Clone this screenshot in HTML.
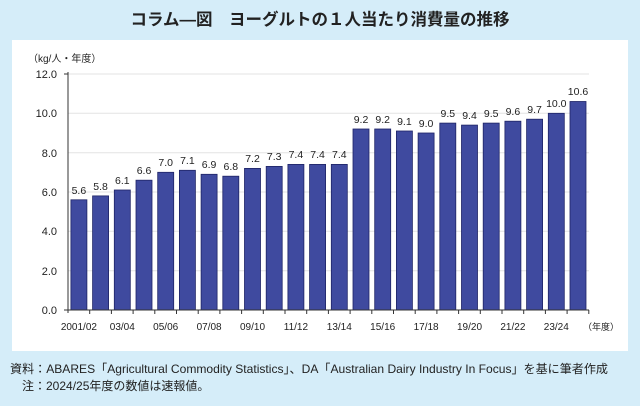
<!DOCTYPE html>
<html><head><meta charset="utf-8"><style>
body{margin:0;width:640px;height:401px;background:#d5edf9;overflow:hidden;font-family:"Liberation Sans","Noto Sans CJK JP",sans-serif}
</style></head><body>
<svg width="640" height="401" xmlns="http://www.w3.org/2000/svg" font-family="Liberation Sans, Noto Sans CJK JP, sans-serif">
<rect width="640" height="401" fill="#d5edf9"/>
<text x="320" y="25" text-anchor="middle" font-size="16.5" font-weight="bold" fill="#222">コラム―図　ヨーグルトの１人当たり消費量の推移</text>
<rect x="12" y="40" width="616" height="311" fill="#fff"/>
<text x="28" y="62" font-size="10" fill="#222">（kg/人・年度）</text>
<g stroke="#e3e3e3" stroke-width="1">
<line x1="68" y1="74" x2="589" y2="74"/><line x1="68" y1="113.3" x2="589" y2="113.3"/><line x1="68" y1="152.7" x2="589" y2="152.7"/><line x1="68" y1="192" x2="589" y2="192"/><line x1="68" y1="231.3" x2="589" y2="231.3"/><line x1="68" y1="270.7" x2="589" y2="270.7"/>
</g>
<g font-size="11" fill="#222" text-anchor="end">
<text x="57" y="78">12.0</text><text x="57" y="117">10.0</text><text x="57" y="157">8.0</text><text x="57" y="196">6.0</text><text x="57" y="235">4.0</text><text x="57" y="275">2.0</text><text x="57" y="314">0.0</text>
</g>
<g fill="#3f4a9f" stroke="#1e2466" stroke-width="0.8">
<rect x="70.9" y="199.8" width="16" height="110.2"/>
<rect x="92.6" y="195.9" width="16" height="114.1"/>
<rect x="114.3" y="190" width="16" height="120"/>
<rect x="136" y="180.2" width="16" height="129.8"/>
<rect x="157.7" y="172.3" width="16" height="137.7"/>
<rect x="179.4" y="170.3" width="16" height="139.7"/>
<rect x="201.1" y="174.3" width="16" height="135.7"/>
<rect x="222.8" y="176.2" width="16" height="133.8"/>
<rect x="244.5" y="168.4" width="16" height="141.6"/>
<rect x="266.2" y="166.4" width="16" height="143.6"/>
<rect x="287.9" y="164.4" width="16" height="145.6"/>
<rect x="309.6" y="164.4" width="16" height="145.6"/>
<rect x="331.3" y="164.4" width="16" height="145.6"/>
<rect x="353" y="129" width="16" height="181"/>
<rect x="374.7" y="129" width="16" height="181"/>
<rect x="396.4" y="131" width="16" height="179"/>
<rect x="418.1" y="133" width="16" height="177"/>
<rect x="439.8" y="123.1" width="16" height="186.9"/>
<rect x="461.5" y="125.1" width="16" height="184.9"/>
<rect x="483.2" y="123.1" width="16" height="186.9"/>
<rect x="504.9" y="121.2" width="16" height="188.8"/>
<rect x="526.6" y="119.2" width="16" height="190.8"/>
<rect x="548.3" y="113.3" width="16" height="196.7"/>
<rect x="570" y="101.5" width="16" height="208.5"/>
</g>
<g font-size="10.5" fill="#222" text-anchor="middle">
<text x="78.9" y="194">5.6</text><text x="100.6" y="190">5.8</text><text x="122.3" y="184">6.1</text><text x="144" y="174">6.6</text><text x="165.7" y="166">7.0</text><text x="187.4" y="164">7.1</text><text x="209.1" y="168">6.9</text><text x="230.8" y="170">6.8</text><text x="252.5" y="162">7.2</text><text x="274.2" y="160">7.3</text><text x="295.9" y="158">7.4</text><text x="317.6" y="158">7.4</text><text x="339.3" y="158">7.4</text><text x="361" y="123">9.2</text><text x="382.7" y="123">9.2</text><text x="404.4" y="125">9.1</text><text x="426.1" y="127">9.0</text><text x="447.8" y="117">9.5</text><text x="469.5" y="119">9.4</text><text x="491.2" y="117">9.5</text><text x="512.9" y="115">9.6</text><text x="534.6" y="113">9.7</text><text x="556.3" y="107">10.0</text><text x="578" y="95">10.6</text>
</g>
<g stroke="#333" stroke-width="1">
<line x1="68" y1="72" x2="68" y2="313"/><line x1="64" y1="74" x2="68" y2="74"/><line x1="64" y1="310" x2="68" y2="310"/>
<line x1="68" y1="310" x2="589" y2="310"/>
<line x1="89.7" y1="310" x2="89.7" y2="314"/><line x1="111.4" y1="310" x2="111.4" y2="314"/><line x1="133.1" y1="310" x2="133.1" y2="314"/><line x1="154.8" y1="310" x2="154.8" y2="314"/><line x1="176.5" y1="310" x2="176.5" y2="314"/><line x1="198.2" y1="310" x2="198.2" y2="314"/><line x1="219.9" y1="310" x2="219.9" y2="314"/><line x1="241.6" y1="310" x2="241.6" y2="314"/><line x1="263.3" y1="310" x2="263.3" y2="314"/><line x1="285" y1="310" x2="285" y2="314"/><line x1="306.7" y1="310" x2="306.7" y2="314"/><line x1="328.4" y1="310" x2="328.4" y2="314"/><line x1="350.1" y1="310" x2="350.1" y2="314"/><line x1="371.8" y1="310" x2="371.8" y2="314"/><line x1="393.5" y1="310" x2="393.5" y2="314"/><line x1="415.2" y1="310" x2="415.2" y2="314"/><line x1="436.9" y1="310" x2="436.9" y2="314"/><line x1="458.6" y1="310" x2="458.6" y2="314"/><line x1="480.3" y1="310" x2="480.3" y2="314"/><line x1="502" y1="310" x2="502" y2="314"/><line x1="523.7" y1="310" x2="523.7" y2="314"/><line x1="545.4" y1="310" x2="545.4" y2="314"/><line x1="567.1" y1="310" x2="567.1" y2="314"/><line x1="588.8" y1="310" x2="588.8" y2="314"/>
</g>
<g font-size="10" fill="#222" text-anchor="middle">
<text x="78.9" y="330">2001/02</text><text x="122.3" y="330">03/04</text><text x="165.7" y="330">05/06</text><text x="209.1" y="330">07/08</text><text x="252.5" y="330">09/10</text><text x="295.9" y="330">11/12</text><text x="339.3" y="330">13/14</text><text x="382.7" y="330">15/16</text><text x="426.1" y="330">17/18</text><text x="469.5" y="330">19/20</text><text x="512.9" y="330">21/22</text><text x="556.3" y="330">23/24</text>
<text x="601" y="330" font-size="9">（年度）</text>
</g>
<text x="10" y="373" font-size="12" fill="#222" textLength="598" lengthAdjust="spacingAndGlyphs">資料：ABARES「Agricultural Commodity Statistics」、DA「Australian Dairy Industry In Focus」を基に筆者作成</text>
<text x="22" y="390" font-size="12" fill="#222">注：2024/25年度の数値は速報値。</text>
</svg>
</body></html>
